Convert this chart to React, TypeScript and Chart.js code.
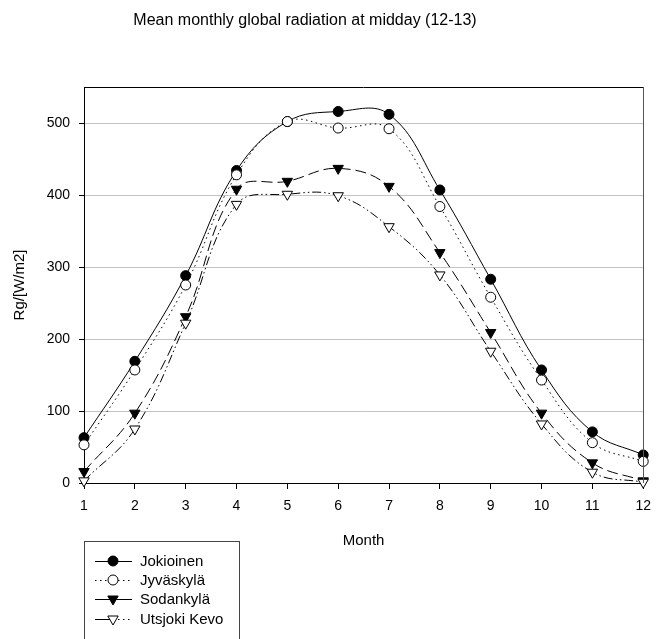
import React, { useEffect, useRef } from "react";
import { Chart, registerables } from "chart.js";

Chart.register(...registerables);

const TITLE = "Mean monthly global radiation at midday (12-13)";
const X_TITLE = "Month";
const Y_TITLE = "Rg/[W/m2]";

const months = [1, 2, 3, 4, 5, 6, 7, 8, 9, 10, 11, 12];
const seriesNames = ["Jokioinen", "Jyväskylä", "Sodankylä", "Utsjoki Kevo"];
const jokioinen = [63, 169, 288, 434, 502, 516, 512, 407, 283, 157, 71, 39];
const jyvaskyla = [53, 157, 275, 428, 502, 493, 492, 384, 258, 143, 56, 30];
const sodankyla = [16, 97, 231, 408, 419, 437, 412, 320, 209, 97, 28, 3];
const utsjoki = [3, 75, 222, 387, 401, 399, 356, 289, 183, 82, 15, 1];
const yTicks = [0, 100, 200, 300, 400, 500];

const FONT = '"Liberation Sans", Arial, sans-serif';

const toPts = (vals: number[]) => vals.map((v, i) => ({ x: months[i], y: v }));

const overlay = {
  id: "overlay",
  afterDraw(chart: any) {
    const ctx = chart.ctx as CanvasRenderingContext2D;
    const a = chart.chartArea;
    ctx.save();
    // top and right frame
    ctx.lineWidth = 1;
    ctx.strokeStyle = "#000";
    ctx.beginPath();
    ctx.moveTo(a.left, Math.round(a.top) + 0.5);
    ctx.lineTo(a.right, Math.round(a.top) + 0.5);
    ctx.stroke();
    ctx.strokeStyle = "#555";
    ctx.beginPath();
    ctx.moveTo(Math.round(a.right) + 0.5, a.top);
    ctx.lineTo(Math.round(a.right) + 0.5, a.bottom);
    ctx.stroke();

    // titles
    ctx.fillStyle = "#000";
    ctx.textAlign = "center";
    ctx.textBaseline = "middle";
    ctx.font = `16px ${FONT}`;
    ctx.fillText(TITLE, 305, 21);
    ctx.font = `15px ${FONT}`;
    ctx.fillText(X_TITLE, (a.left + a.right) / 2, 541);
    ctx.save();
    ctx.translate(20, (a.top + a.bottom) / 2);
    ctx.rotate(-Math.PI / 2);
    ctx.fillText(Y_TITLE, 0, 0);
    ctx.restore();

    // legend
    const bx = 84.5, by = 541.5, bw = 155;
    ctx.strokeStyle = "#444";
    ctx.lineWidth = 1;
    ctx.strokeRect(bx, by, bw, 200);
    const rows = [561, 580, 599, 619];
    chart.data.datasets.forEach((ds: any, i: number) => {
      const y = rows[i];
      const lx1 = 95, lx2 = 132, mx = 113;
      ctx.strokeStyle = "#000";
      ctx.lineWidth = 1;
      const lp = ds.legendDash as number[][];
      ctx.setLineDash(lp[0]);
      ctx.beginPath();
      ctx.moveTo(lx1, y + 0.5);
      ctx.lineTo(mx, y + 0.5);
      ctx.stroke();
      ctx.setLineDash(lp[1]);
      ctx.beginPath();
      ctx.moveTo(mx, y + 0.5);
      ctx.lineTo(lx2, y + 0.5);
      ctx.stroke();
      ctx.setLineDash([]);
      ctx.fillStyle = ds.pointBackgroundColor;
      ctx.strokeStyle = "#000";
      if (ds.pointStyle === "circle") {
        ctx.beginPath();
        ctx.arc(mx, y, 5, 0, Math.PI * 2);
        ctx.fill();
        ctx.stroke();
      } else {
        const r = 6;
        ctx.beginPath();
        ctx.moveTo(mx, y + r);
        ctx.lineTo(mx - r * 0.866, y - r / 2);
        ctx.lineTo(mx + r * 0.866, y - r / 2);
        ctx.closePath();
        ctx.fill();
        ctx.stroke();
      }
      ctx.fillStyle = "#000";
      ctx.textAlign = "left";
      ctx.font = `15px ${FONT}`;
      ctx.fillText(ds.label, 140, y + 1);
    });
    ctx.restore();
  },
};

export default function App() {
  const ref = useRef<HTMLCanvasElement>(null);
  useEffect(() => {
    if (!ref.current) return;
    Chart.defaults.font.family = FONT;
    const common = { borderColor: "#000", borderWidth: 1, tension: 0.4, pointBorderColor: "#000", pointBorderWidth: 1, clip: false as any, fill: false };
    const chart = new Chart(ref.current, {
      type: "line",
      data: {
        datasets: [
          { ...common, label: seriesNames[0], data: toPts(jokioinen), pointStyle: "circle", pointRadius: 5, pointBackgroundColor: "#000", borderDash: [], order: 4, legendDash: [[], []] } as any,
          { ...common, label: seriesNames[1], data: toPts(jyvaskyla), pointStyle: "circle", pointRadius: 5, pointBackgroundColor: "#fff", borderDash: [1.5, 3.5], order: 3, legendDash: [[1.5, 3.5], [1.5, 3.5]] } as any,
          { ...common, label: seriesNames[2], data: toPts(sodankyla), pointStyle: "triangle", pointRotation: 180, pointRadius: 6, pointBackgroundColor: "#000", borderDash: [11, 5], order: 2, legendDash: [[], []] } as any,
          { ...common, label: seriesNames[3], data: toPts(utsjoki), pointStyle: "triangle", pointRotation: 180, pointRadius: 6, pointBackgroundColor: "#fff", borderDash: [9, 3, 1.5, 3, 1.5, 3], order: 1, legendDash: [[], [1.5, 3.5]] } as any,
        ],
      },
      options: {
        animation: false,
        responsive: false,
        devicePixelRatio: 1,
        layout: { padding: { left: 0, right: 9, top: 87, bottom: 0 } },
        plugins: { legend: { display: false }, tooltip: { enabled: false }, title: { display: false } },
        scales: {
          x: {
            type: "linear",
            min: 1,
            max: 12,
            afterFit: (s: any) => { s.height = 156; },
            ticks: { stepSize: 1, color: "#000", font: { size: 14 }, padding: 9, autoSkip: false, maxRotation: 0 },
            grid: { drawOnChartArea: false, drawTicks: true, tickLength: 6, tickColor: "#000" },
            border: { display: true, color: "#000", width: 1 },
          },
          y: {
            type: "linear",
            min: 0,
            max: 550,
            afterFit: (s: any) => { s.width = 84; },
            afterBuildTicks: (s: any) => { s.ticks = yTicks.map((v) => ({ value: v })); },
            ticks: { color: "#000", font: { size: 14 }, padding: 9 },
            grid: { color: (c: any) => (c.tick && c.tick.value === 0 ? "rgba(0,0,0,0)" : "#c4c4c4"), tickColor: "#000", tickLength: 5, lineWidth: 1 },
            border: { display: true, color: "#000", width: 1 },
          },
        },
      },
      plugins: [overlay],
    });
    return () => chart.destroy();
  }, []);
  return (
    <div style={{ position: "absolute", left: 0, top: 0, width: 660, height: 639, background: "#fff" }}>
      <canvas ref={ref} width={660} height={639} style={{ width: 660, height: 639, display: "block" }} />
    </div>
  );
}
